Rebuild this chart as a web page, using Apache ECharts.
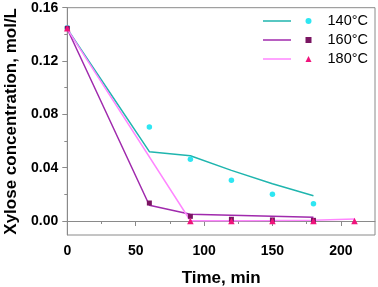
<!DOCTYPE html>
<html><head><meta charset="utf-8">
<script src="https://cdn.jsdelivr.net/npm/echarts@6/dist/echarts.min.js"></script>
<style>html,body{margin:0;padding:0;background:#fff}#c{width:378px;height:287px}</style>
</head><body><div id="c"></div>
<script>
const legendNames = ['140°C', '160°C', '180°C'];
const time140 = [0, 60, 90, 120, 150, 180];
const fit140 = [0.144, 0.052, 0.049, 0.038, 0.028, 0.019];
const exp140 = [0.145, 0.0705, 0.0463, 0.0305, 0.020, 0.013];
const time160 = [0, 60, 90, 120, 150, 180];
const fit160 = [0.144, 0.0118, 0.005, 0.0043, 0.0035, 0.0028];
const exp160 = [0.1445, 0.0135, 0.0035, 0.0013, 0.0008, 0.0005];
const time180 = [0, 90, 120, 150, 180, 210];
const fit180 = [0.144, 0.0002, 0.0002, 0.0003, 0.0005, 0.0015];
const exp180 = [0.1445, 0, 0, 0, 0, 0];
const xMajor = [0, 50, 100, 150, 200];
const xMinor = [25, 75, 125, 175];
const yMajor = [0, 0.04, 0.08, 0.12, 0.16];
const yMinor = [0.02, 0.06, 0.10, 0.14];

const pair = (xs, ys) => xs.map((x, i) => [x, ys[i]]);
const font = 'Liberation Sans, Arial, sans-serif';
const gray = '#8a8a8a';
const colors = {
  l140: '#1fb5ae', p140: '#2ee6f2',
  l160: '#a02aad', p160: '#7a1562',
  l180: '#ff86ff', p180: '#f0137c'
};

const chart = echarts.init(document.getElementById('c'));
chart.setOption({
  animation: false,
  grid: { left: 67.3, right: 3, top: 7.7, bottom: 52, show: true, borderColor: gray, borderWidth: 1, backgroundColor: 'transparent', containLabel: false, outerBoundsMode: 'none' },
  xAxis: [
    {
      type: 'value', min: 0, max: 225,
      name: 'Time, min', nameLocation: 'middle', nameGap: 35,
      nameTextStyle: { fontFamily: font, fontWeight: 'bold', fontSize: 17, color: '#000' },
      axisLine: { show: true, lineStyle: { color: gray, width: 1 } },
      axisTick: { show: true, length: 5, lineStyle: { color: gray }, customValues: xMajor },
      axisLabel: { customValues: xMajor, fontFamily: font, fontWeight: 'bold', fontSize: 14, color: '#000', margin: 9 },
      splitLine: { show: false }
    },
    {
      type: 'value', min: 0, max: 225, position: 'bottom',
      axisLine: { show: false },
      axisTick: { show: true, length: 3, lineStyle: { color: gray }, customValues: xMinor },
      axisLabel: { show: false },
      splitLine: { show: false }
    }
  ],
  yAxis: [
    {
      type: 'value', min: -0.0105, max: 0.16,
      name: 'Xylose concentration, mol/L', nameLocation: 'middle', nameGap: 44,
      nameTextStyle: { fontFamily: font, fontWeight: 'bold', fontSize: 17, color: '#000' },
      axisLine: { show: true, lineStyle: { color: gray, width: 1 } },
      axisTick: { show: true, length: 5, lineStyle: { color: gray }, customValues: yMajor },
      axisLabel: { customValues: yMajor, fontFamily: font, fontWeight: 'bold', fontSize: 14, color: '#000', margin: 9,
        formatter: v => v.toFixed(2) },
      splitLine: { show: false }
    },
    {
      type: 'value', min: -0.0105, max: 0.16, position: 'left',
      axisLine: { show: false },
      axisTick: { show: true, length: 3, lineStyle: { color: gray }, customValues: yMinor },
      axisLabel: { show: false },
      splitLine: { show: false }
    }
  ],
  legend: [
    {
      data: ['fit140', 'fit160', 'fit180'],
      orient: 'vertical', left: 258, top: 8,
      icon: 'path://M0,0 L28,0 L28,1.5 L0,1.5 Z',
      itemWidth: 28, itemHeight: 14, itemGap: 3,
      formatter: () => ' ',
      textStyle: { fontFamily: font, fontSize: 14.5, lineHeight: 16 },
      selectedMode: false
    },
    {
      data: legendNames,
      orient: 'vertical', left: 300.5, top: 8,
      itemWidth: 6, itemHeight: 6, itemGap: 3,
      textStyle: { fontFamily: font, fontSize: 14.5, lineHeight: 16, color: '#000', padding: [0, 0, 0, 11] },
      selectedMode: false
    }
  ],
  series: [
    { name: 'fit140', type: 'line', data: pair(time140, fit140), symbol: 'none', lineStyle: { color: colors.l140, width: 1.5 }, itemStyle: { color: colors.l140 }, z: 2 },
    { name: 'fit160', type: 'line', data: pair(time160, fit160), symbol: 'none', lineStyle: { color: colors.l160, width: 1.5 }, itemStyle: { color: colors.l160 }, z: 2 },
    { name: 'fit180', type: 'line', data: pair(time180, fit180), symbol: 'none', lineStyle: { color: colors.l180, width: 1.5 }, itemStyle: { color: colors.l180 }, z: 2 },
    { name: legendNames[0], type: 'scatter', data: pair(time140, exp140), symbol: 'circle', symbolSize: 5.5, itemStyle: { color: colors.p140, opacity: 1 }, z: 3, clip: false },
    { name: legendNames[1], type: 'scatter', data: pair(time160, exp160), symbol: 'rect', symbolSize: 5, itemStyle: { color: colors.p160, opacity: 1 }, z: 4, clip: false },
    { name: legendNames[2], type: 'scatter', data: pair(time180, exp180), symbol: 'triangle', symbolSize: 6.5, itemStyle: { color: colors.p180, opacity: 1 }, z: 5, clip: false }
  ]
});
</script>
</body></html>
